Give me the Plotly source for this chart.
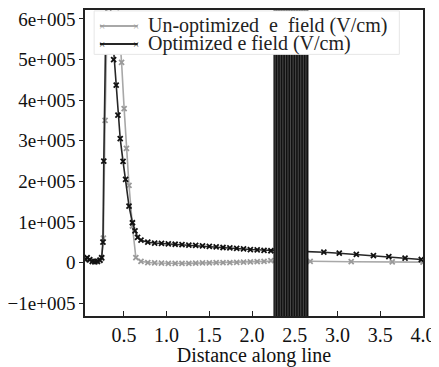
import plotly.graph_objects as go

# ---- data ----
opt_x = [0.05, 0.07, 0.10, 0.13, 0.16, 0.19, 0.22, 0.24, 0.255, 0.265, 0.30, 0.36, 0.38, 0.41, 0.43, 0.457,
         0.49, 0.52, 0.56, 0.60, 0.63, 0.66, 0.70, 0.78, 0.86, 0.94, 1.02, 1.10, 1.18, 1.26, 1.34, 1.42,
         1.50, 1.58, 1.66, 1.74, 1.82, 1.90, 1.98, 2.06, 2.14, 2.22, 2.30, 2.40, 2.50, 2.60, 2.84, 3.02,
         3.22, 3.42, 3.60, 3.79, 3.98]
opt_y = [8e3, 12e3, 7e3, 3e3, 2e3, 3e3, 6e3, 12e3, 5e4, 2.5e5, 7.5e5, 5.8e5, 5.0e5, 4.37e5, 3.63e5, 3.05e5,
         2.49e5, 2.05e5, 1.39e5, 0.98e5, 0.78e5, 0.62e5, 0.55e5, 0.50e5, 0.48e5, 0.47e5, 0.46e5, 0.45e5, 0.44e5,
         0.43e5, 0.42e5, 0.41e5, 0.40e5, 0.385e5, 0.37e5, 0.36e5, 0.35e5, 0.335e5, 0.32e5, 0.31e5, 0.30e5,
         0.29e5, 0.29e5, 0.285e5, 0.28e5, 0.275e5, 0.255e5, 0.23e5, 0.20e5, 0.17e5, 0.145e5, 0.11e5, 0.075e5]

unopt_x = [0.05, 0.07, 0.10, 0.13, 0.16, 0.19, 0.22, 0.24, 0.26, 0.28, 0.32, 0.40, 0.45, 0.473, 0.503, 0.53,
           0.56, 0.60, 0.64, 0.70, 0.78, 0.86, 0.94, 1.02, 1.10, 1.18, 1.26, 1.34, 1.42, 1.50, 1.58, 1.66,
           1.74, 1.82, 1.90, 1.98, 2.06, 2.14, 2.22, 2.40, 2.60, 2.68, 3.16, 3.64, 4.0]
unopt_y = [6e3, 10e3, 6e3, 2e3, 1e3, 2e3, 5e3, 10e3, 6e4, 3.5e5, 7.6e5, 7.6e5, 5.6e5, 4.93e5, 3.79e5, 2.81e5,
           1.9e5, 0.9e5, 0.12e5, 3e3, 0, -1e3, -1.5e3, -2e3, -2e3, -2e3, -2e3, -1.5e3, -1e3, -1e3, -0.5e3, 0,
           0, 0.5e3, 1e3, 1.5e3, 2e3, 3e3, 4.5e3, 4e3, 3.5e3, 3e3, 2e3, 1.5e3, 1e3]

series_names = ["Un-optimized\u00a0 e\u00a0 field (V/cm)", "Optimized e field (V/cm)"]

band_range = [2.25, 2.66]
band_lines = [2.27, 2.30, 2.33, 2.36, 2.39, 2.42, 2.45, 2.48, 2.51, 2.54, 2.57, 2.60, 2.63]

y_tickvals = [-1e5, 0, 1e5, 2e5, 3e5, 4e5, 5e5, 6e5]
y_ticktext = ["\u22121e+005", "0", "1e+005", "2e+005", "3e+005", "4e+005", "5e+005", "6e+005"]
x_tickvals = [0.5, 1.0, 1.5, 2.0, 2.5, 3.0, 3.5, 4.0]
x_ticktext = ["0.5", "1.0", "1.5", "2.0", "2.5", "3.0", "3.5", "4.0"]

FONT = "Liberation Serif"
COLORS = ["#a8a8a8", "#262626"]
MARKER_COLORS = ["#9a9a9a", "#111111"]

fig = go.Figure()

# dense black band
fig.add_shape(type="rect", xref="x", yref="paper", x0=band_range[0], x1=band_range[1], y0=0, y1=1,
              fillcolor="#111111", line=dict(width=0), layer="above")
for bx in band_lines:
    fig.add_shape(type="line", xref="x", yref="paper", x0=bx, x1=bx, y0=0, y1=1,
                  line=dict(color="#4a4a4a", width=1), layer="above")

for xs, ys, name, c, mc in [(unopt_x, unopt_y, series_names[0], COLORS[0], MARKER_COLORS[0]),
                            (opt_x, opt_y, series_names[1], COLORS[1], MARKER_COLORS[1])]:
    fig.add_trace(go.Scatter(
        x=xs, y=ys, mode="lines+markers", name=name, showlegend=False,
        line=dict(color=c, width=1.6),
        marker=dict(symbol="x-thin", size=5, color=mc, line=dict(width=1.8, color=mc)),
    ))

# legend box (drawn manually to match the compact row spacing)
fig.add_shape(type="rect", xref="paper", yref="paper", x0=0.027, x1=0.93, y0=0.855, y1=0.997,
              fillcolor="white", line=dict(color="#e6e6e6", width=1), layer="above")
row_y = [0.948, 0.889]
for i, name in enumerate(series_names):
    fig.add_shape(type="line", xref="paper", yref="paper", x0=0.044, x1=0.156, y0=row_y[i], y1=row_y[i],
                  line=dict(color=COLORS[i], width=2), layer="above")
    for xe in (0.05, 0.15):
        fig.add_annotation(x=xe, y=row_y[i], xref="paper", yref="paper", text="\u00d7", showarrow=False,
                           font=dict(family=FONT, size=11, color=MARKER_COLORS[i]),
                           xanchor="center", yanchor="middle")
    fig.add_annotation(x=0.18, y=row_y[i], xref="paper", yref="paper", text=name, showarrow=False,
                       font=dict(family=FONT, size=20, color="#222222"), xanchor="left", yanchor="middle")

fig.update_layout(
    width=431, height=359,
    margin=dict(l=76, r=16, t=0, b=51),
    paper_bgcolor="white", plot_bgcolor="white",
    font=dict(family=FONT, size=20, color="#111111"),
    showlegend=False,
    xaxis=dict(range=[0.045, 4.0], tickvals=x_tickvals, ticktext=x_ticktext,
               showgrid=False, zeroline=False, showline=True, linecolor="#222", linewidth=1.5,
               mirror=True, ticks="inside", ticklen=5, tickcolor="#222",
               ticklabeloverflow="allow",
               title=dict(text="Distance along line", font=dict(family=FONT, size=20), standoff=2),
               tickfont=dict(family=FONT, size=20)),
    yaxis=dict(range=[-1.317e5, 6.22e5], tickvals=y_tickvals, ticktext=y_ticktext,
               showgrid=False, zeroline=False, showline=True, linecolor="#222", linewidth=1.5,
               mirror=True, ticks="outside", ticklen=4, tickcolor="#222",
               ticklabeloverflow="allow",
               tickfont=dict(family=FONT, size=19)),
)

fig.write_html("out.html", config={"displayModeBar": False})
